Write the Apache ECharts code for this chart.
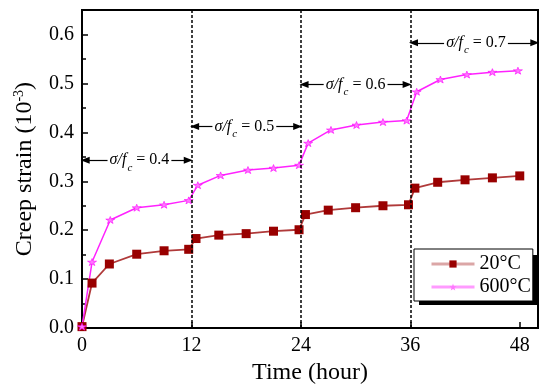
<!DOCTYPE html>
<html>
<head>
<meta charset="utf-8">
<script src="https://cdn.jsdelivr.net/npm/echarts@6/dist/echarts.min.js"></script>
<style>html,body{margin:0;padding:0;background:#fff}#c{width:550px;height:390px}</style>
</head>
<body>
<div id="c"></div>
<script>
// ---- data ----
var time20 = [0, 1.1, 3, 6, 9, 11.7, 12.5, 15, 18, 21, 23.8, 24.5, 27, 30, 33, 35.8, 36.5, 39, 42, 45, 48];
var strain20 = [0.003, 0.092, 0.131, 0.151, 0.158, 0.161, 0.183, 0.190, 0.193, 0.198, 0.201, 0.232, 0.241, 0.246, 0.250, 0.252, 0.286, 0.298, 0.303, 0.307, 0.311];
var time600 = [0, 1.1, 3.1, 6, 9, 11.7, 12.7, 15.2, 18.2, 21, 23.8, 24.8, 27.3, 30.1, 33, 35.6, 36.7, 39.3, 42.2, 45, 47.8];
var strain600 = [0.003, 0.135, 0.221, 0.246, 0.252, 0.261, 0.292, 0.312, 0.323, 0.327, 0.333, 0.378, 0.405, 0.415, 0.421, 0.424, 0.483, 0.508, 0.518, 0.523, 0.526];
var seriesNames = ['20°C', '600°C'];
var stageBounds = [12, 24, 36];
var stageRatios = ['0.4', '0.5', '0.6', '0.7'];
var stageStart = [0, 12, 24, 36];
var stageEnd = [12, 24, 36, 50];
var stageTextCenter = [6.3, 17.8, 30.0, 43.2];
var stageY = [0.343, 0.412, 0.498, 0.583];
var stageHalfText = 3.5; // half text width in hours

var FONT = 'Liberation Serif';
function pairs(xs, ys) { return xs.map(function (x, i) { return [x, ys[i]]; }); }

var arrowSegs = [];
var labelPts = [];
stageRatios.forEach(function (r, i) {
  var c = stageTextCenter[i], y = stageY[i];
  arrowSegs.push([{ coord: [c - stageHalfText, y] }, { coord: [stageStart[i] + 0.35, y] }]);
  arrowSegs.push([{ coord: [c + stageHalfText, y] }, { coord: [stageEnd[i] - 0.35, y] }]);
  labelPts.push({ coord: [c, y], value: r });
});

var starPath = 'path://M5,0 L6.2,3.6 L10,3.6 L6.9,5.9 L8.1,9.5 L5,7.3 L1.9,9.5 L3.1,5.9 L0,3.6 L3.8,3.6 Z';

var chart = echarts.init(document.getElementById('c'), null, { renderer: 'canvas' });
chart.setOption({
  animation: false,
  backgroundColor: '#fff',
  textStyle: { fontFamily: FONT },
  grid: { left: 82, right: 12, top: 10, bottom: 54, show: true, borderColor: '#000', borderWidth: 2, backgroundColor: 'transparent' },
  graphic: [
    { type: 'rect', shape: { x: 419, y: 255, width: 119, height: 50 }, style: { fill: '#000' }, z: 3, silent: true }
  ],
  xAxis: {
    type: 'value', min: 0, max: 50, interval: 12,
    name: 'Time (hour)', nameLocation: 'middle', nameGap: 25,
    nameTextStyle: { fontFamily: FONT, fontSize: 24, color: '#000' },
    axisLine: { lineStyle: { color: '#000', width: 2 } },
    axisTick: { inside: true, length: 6, lineStyle: { color: '#000', width: 1.5 } },
    axisLabel: { fontFamily: FONT, fontSize: 20, color: '#000', margin: 8, showMaxLabel: false },
    splitLine: { show: false }
  },
  yAxis: {
    type: 'value', min: 0, max: 0.65, interval: 0.1,
    name: '{a|Creep strain (10}{b|-3}{a|)}', nameLocation: 'middle', nameGap: 44, nameRotate: 90,
    nameTextStyle: {
      fontFamily: FONT, color: '#000',
      rich: {
        a: { fontFamily: FONT, fontSize: 24, color: '#000', lineHeight: 26 },
        b: { fontFamily: FONT, fontSize: 14, color: '#000', padding: [0, 0, 12, 0] }
      }
    },
    axisLine: { lineStyle: { color: '#000', width: 2 } },
    axisTick: { inside: true, length: 6, lineStyle: { color: '#000', width: 1.5 } },
    minorTick: { show: true, splitNumber: 2, length: 4, lineStyle: { color: '#000', width: 1.5 } },
    axisLabel: { fontFamily: FONT, fontSize: 20, color: '#000', margin: 8, showMaxLabel: false,
      formatter: function (v) { return v.toFixed(1); } },
    splitLine: { show: false }
  },
  legend: {
    data: seriesNames, orient: 'vertical', left: 414, top: 249,
    padding: [5, 2, 4, 16], itemGap: 3, itemWidth: 43, itemHeight: 9,
    backgroundColor: '#fff', borderColor: '#000', borderWidth: 1, z: 5,
    itemStyle: { borderWidth: 0 },
    lineStyle: { width: 3, opacity: 0.45 },
    textStyle: { fontFamily: FONT, fontSize: 20, color: '#000', padding: [2, 0, 0, 0] }
  },
  series: [
    {
      name: seriesNames[0], type: 'line', data: pairs(time20, strain20),
      symbol: 'rect', symbolSize: 9,
      lineStyle: { color: '#b03a3a', width: 1.8 },
      itemStyle: { color: '#990000' }, z: 2
    },
    {
      name: seriesNames[1], type: 'line', data: pairs(time600, strain600),
      symbol: starPath, symbolSize: [9, 7],
      lineStyle: { color: '#ff22ff', width: 1.5 },
      itemStyle: { color: '#ff77ff', borderColor: '#ff00ff', borderWidth: 0.6 }, z: 2
    },
    {
      name: 'annot', type: 'line', data: [], z: 1,
      markLine: {
        silent: true, symbol: 'none', label: { show: false },
        lineStyle: { color: '#000', type: [3, 2], width: 1.5 },
        data: stageBounds.map(function (b) { return { xAxis: b }; })
      }
    },
    {
      name: 'arrows', type: 'line', data: [], z: 1,
      markLine: {
        silent: true, symbol: ['none', 'triangle'], symbolSize: [7, 9], label: { show: false },
        lineStyle: { color: '#000', type: 'solid', width: 1.2 },
        data: arrowSegs
      },
      markPoint: {
        silent: true, symbol: 'circle', symbolSize: 0,
        label: {
          show: true, position: 'inside',
          formatter: function (p) { return '{i|σ/f}{s|c}{n| = ' + p.value + '}'; },
          rich: {
            i: { fontFamily: FONT, fontSize: 16, fontStyle: 'italic', color: '#000', verticalAlign: 'top', lineHeight: 18 },
            s: { fontFamily: FONT, fontSize: 11, fontStyle: 'italic', color: '#000', verticalAlign: 'top', lineHeight: 10, padding: [10, 0, 0, 1] },
            n: { fontFamily: FONT, fontSize: 16, color: '#000', verticalAlign: 'top', lineHeight: 18 }
          },
          offset: [0, 1]
        },
        data: labelPts
      }
    }
  ]
});
</script>
</body>
</html>
